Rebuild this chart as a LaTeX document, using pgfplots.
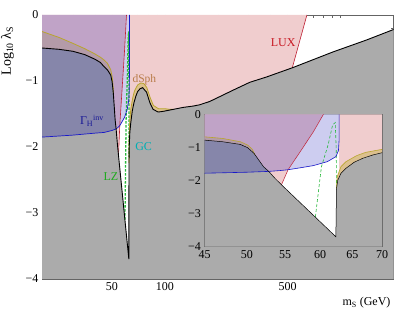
\documentclass[border=0pt]{standalone}
\usepackage{fontspec}
\setmainfont{Liberation Serif}
\usepackage{pgfplots}
\pgfplotsset{compat=1.18}
\definecolor{cgray}{RGB}{171,171,171}
\definecolor{cpink}{RGB}{240,205,206}
\definecolor{cpurple}{RGB}{192,163,199}
\definecolor{clav}{RGB}{205,205,240}
\definecolor{cdblue}{RGB}{134,134,170}
\definecolor{cmauve}{RGB}{180,155,168}
\definecolor{ctan}{RGB}{220,192,142}
\definecolor{ltan}{RGB}{185,165,45}
\definecolor{lblue}{RGB}{25,25,200}
\definecolor{lred}{RGB}{190,30,50}
\definecolor{lgreen}{RGB}{40,185,60}
\definecolor{axgray}{RGB}{100,100,100}
\definecolor{tlux}{RGB}{200,25,35}
\definecolor{tdsph}{RGB}{185,125,75}
\definecolor{tgamma}{RGB}{25,25,150}
\definecolor{tgc}{RGB}{0,175,180}
\definecolor{tlz}{RGB}{30,170,30}

\newcommand{\regions}{%
% LUX (left of red line)
\addplot[draw=none,fill=cpink] coordinates {(20,0) (60.5,0) (59.0,-0.53) (57.1,-1.13) (55.4,-1.675) (54.5,-2.13) (53.6,-1.93) (52.8,-1.725) (52.1,-1.58) (51.5,-1.38) (50.9,-1.18) (50.1,-1.01) (49.2,-0.91) (47.1,-0.83) (45,-0.78) (43,-0.72) (40,-0.67) (35,-0.60) (30,-0.55) (25,-0.52) (20,-0.50)} -- cycle;
% LUX + invisible width
\addplot[draw=none,fill=cpurple] coordinates {(20,0) (60.5,0) (59.0,-0.53) (57.1,-1.13) (55.4,-1.675) (54.3,-1.70) (52.8,-1.725) (52.1,-1.58) (51.5,-1.38) (50.9,-1.18) (50.1,-1.01) (49.2,-0.91) (47.1,-0.83) (45,-0.78) (43,-0.72) (40,-0.67) (35,-0.60) (30,-0.55) (25,-0.52) (20,-0.50)} -- cycle;
% invisible width only
\addplot[draw=none,fill=clav] coordinates {(60.5,0) (62.9,0) (62.9,-0.8) (62.8,-1.1) (62.4,-1.28) (61.1,-1.43) (59,-1.55) (57,-1.62) (55.4,-1.675) (57.1,-1.13) (59.0,-0.53)} -- cycle;
% LUX (high mass side)
\addplot[draw=none,fill=cpink] coordinates {(62.9,0) (643,0) (531,-0.80) (378,-0.94) (304,-1.02) (244,-1.14) (197,-1.26) (180,-1.31) (158,-1.36) (144.8,-1.38) (127,-1.40) (116.5,-1.42) (107,-1.43) (100,-1.42) (92,-1.42) (86,-1.37) (82.2,-1.24) (79,-1.10) (76,-1.04) (73,-1.03) (70,-1.06) (67.2,-1.15) (65.7,-1.25) (64.0,-1.43) (63.2,-1.58) (62.9,-1.68)} -- cycle;
% relic density excluded
\addplot[draw=none,fill=cgray] coordinates {(20,-4) (20,-0.50) (25,-0.52) (30,-0.55) (35,-0.60) (40,-0.67) (43,-0.72) (45,-0.78) (47.1,-0.83) (49.2,-0.91) (50.1,-1.01) (50.9,-1.18) (51.5,-1.38) (52.1,-1.58) (52.8,-1.725) (53.6,-1.93) (54.5,-2.13) (62.4,-3.70) (62.5,-2.24) (62.7,-1.99) (63.2,-1.78) (64.0,-1.63) (65.3,-1.45) (66.7,-1.33) (68.4,-1.23) (70,-1.16) (72.1,-1.12) (74.7,-1.10) (78.7,-1.17) (82.2,-1.33) (85.8,-1.43) (91.6,-1.47) (97.8,-1.46) (106.7,-1.44) (116.5,-1.42) (127,-1.40) (144.8,-1.38) (158,-1.36) (180,-1.31) (197,-1.26) (244,-1.14) (304,-1.02) (378,-0.94) (531,-0.80) (904,-0.56) (1400,-0.38) (2000,-0.22) (2000,-4)} -- cycle;
% overlap gray + invisible width
\addplot[draw=none,fill=cdblue] coordinates {(20,-0.50) (25,-0.52) (30,-0.55) (35,-0.60) (40,-0.67) (43,-0.72) (45,-0.78) (47.1,-0.83) (49.2,-0.91) (50.1,-1.01) (50.9,-1.18) (51.5,-1.38) (52.1,-1.58) (52.8,-1.725) (50,-1.75) (45,-1.78) (40,-1.79) (30,-1.82) (20,-1.85)} -- cycle;
% band between dSph and relic (low mass)
\addplot[draw=none,fill=cmauve] coordinates {(20,-0.25) (25,-0.34) (30,-0.43) (35,-0.51) (40,-0.59) (43,-0.64) (45,-0.68) (47.1,-0.73) (49.2,-0.83) (50.1,-0.93) (50.7,-1.06) (51.0,-1.22) (50.9,-1.18) (50.1,-1.01) (49.2,-0.91) (47.1,-0.83) (45,-0.78) (43,-0.72) (40,-0.67) (35,-0.60) (30,-0.55) (25,-0.52) (20,-0.50)} -- cycle;
% band between dSph and relic (high mass)
\addplot[draw=none,fill=ctan] coordinates {(62.5,-2.24) (62.6,-1.89) (63.2,-1.58) (64.0,-1.43) (65.7,-1.25) (67.2,-1.15) (70,-1.06) (73,-1.03) (76,-1.04) (79,-1.10) (82.2,-1.24) (86,-1.37) (92,-1.42) (100,-1.42) (107,-1.43) (112,-1.43) (106.7,-1.44) (97.8,-1.46) (91.6,-1.47) (85.8,-1.43) (82.2,-1.33) (78.7,-1.17) (74.7,-1.10) (72.1,-1.12) (70,-1.16) (68.4,-1.23) (66.7,-1.33) (65.3,-1.45) (64.0,-1.63) (63.2,-1.78) (62.7,-1.99)} -- cycle;
% LZ
\addplot[lzline] coordinates {(59.3,-3.1) (60.2,-1.58) (61.2,-0.93) (61.9,-0.32) (62.3,-0.25) (62.45,-1.0) (62.5,-2.15)};
% LUX lines
\addplot[redline] coordinates {(54.5,-2.13) (55.4,-1.675) (57.1,-1.13) (59.0,-0.53) (60.5,0)};
\addplot[redline] coordinates {(531,-0.80) (643,0)};
% invisible width
\addplot[blueline] coordinates {(20,-1.85) (30,-1.82) (40,-1.79) (45,-1.78) (50,-1.75) (52.8,-1.725) (54.3,-1.70) (55.4,-1.675) (57,-1.62) (59,-1.55) (61.1,-1.43) (62.4,-1.28) (62.8,-1.1) (62.9,-0.8) (62.9,0)};
% dSph
\addplot[tanline] coordinates {(20,-0.25) (25,-0.34) (30,-0.43) (35,-0.51) (40,-0.59) (43,-0.64) (45,-0.68) (47.1,-0.73) (49.2,-0.83) (50.1,-0.93) (50.7,-1.06) (51.0,-1.22)};
\addplot[tanline] coordinates {(62.5,-2.24) (62.6,-1.89) (63.2,-1.58) (64.0,-1.43) (65.7,-1.25) (67.2,-1.15) (70,-1.06) (73,-1.03) (76,-1.04) (79,-1.10) (82.2,-1.24) (86,-1.37) (92,-1.42) (100,-1.42) (107,-1.43) (112,-1.43)};
% relic density
\addplot[blackline] coordinates {(20,-0.50) (25,-0.52) (30,-0.55) (35,-0.60) (40,-0.67) (43,-0.72) (45,-0.78) (47.1,-0.83) (49.2,-0.91) (50.1,-1.01) (50.9,-1.18) (51.5,-1.38) (52.1,-1.58) (52.8,-1.725) (53.6,-1.93) (54.5,-2.13) (62.4,-3.70) (62.5,-2.24) (62.7,-1.99) (63.2,-1.78) (64.0,-1.63) (65.3,-1.45) (66.7,-1.33) (68.4,-1.23) (70,-1.16) (72.1,-1.12) (74.7,-1.10) (78.7,-1.17) (82.2,-1.33) (85.8,-1.43) (91.6,-1.47) (97.8,-1.46) (106.7,-1.44) (116.5,-1.42) (127,-1.40) (144.8,-1.38) (158,-1.36) (180,-1.31) (197,-1.26) (244,-1.14) (304,-1.02) (378,-0.94) (531,-0.80) (904,-0.56) (1400,-0.38) (2000,-0.22)};
}

\begin{document}
\begin{tikzpicture}
\path[use as bounding box] (0,0) rectangle (407pt,313pt);
\begin{axis}[
  scale only axis, xmode=log, ymin=-4, ymax=0,
  axis line style={axgray, line width=0.7pt},
  tick style={axgray, line width=0.5pt},
  tick align=inside,
  tick label style={font=\fontsize{12}{14}\selectfont, black},
  ytick={-4,-3,-2,-1,0}, yticklabels={−4,−3,−2,−1,0},
  minor y tick num=4,
  at={(42pt,34pt)}, anchor=south west, width=351.5pt, height=264pt,
  xmin=20, xmax=2000,
  xtick={50,100,500}, xticklabels={50,100,500},
  minor xtick={20,30,40,60,70,80,90,200,300,400,600,700,800,900,1000,2000},
  major tick length=5pt, minor tick length=3pt,
  blackline/.style={black, line width=0.9pt},
  tanline/.style={ltan, line width=0.8pt},
  blueline/.style={lblue, line width=0.7pt},
  redline/.style={lred, line width=0.6pt},
  lzline/.style={lgreen, line width=1.3pt, dash pattern=on 2.5pt off 1.5pt},
]
\regions
\node[text=tlux, font=\fontsize{12}{14}\selectfont] at (axis cs:471,-0.417) {LUX};
\node[text=tdsph, font=\fontsize{11.5}{14}\selectfont] at (axis cs:76.5,-0.985) {dSph};
\node[text=tgamma, font=\fontsize{12}{14}\selectfont] at (axis cs:38.5,-1.6) {Γ\textsubscript{H}\textsuperscript{inv}};
\node[text=tgc, font=\fontsize{12}{14}\selectfont] at (axis cs:75.7,-2.0) {GC};
\node[text=tlz, font=\fontsize{12}{14}\selectfont] at (axis cs:49.3,-2.45) {LZ};
\end{axis}
\begin{axis}[
  scale only axis, xmode=log, ymin=-4, ymax=0,
  axis line style={axgray, line width=0.7pt},
  tick style={axgray, line width=0.5pt},
  tick align=inside,
  tick label style={font=\fontsize{12}{14}\selectfont, black},
  ytick={-4,-3,-2,-1,0}, yticklabels={−4,−3,−2,−1,0},
  minor y tick num=4,
  at={(204.5pt,66.3pt)}, anchor=south west, width=177.5pt, height=132.4pt,
  xmin=45, xmax=70,
  axis background/.style={fill=white},
  xtick={45,50,55,60,65,70}, xticklabels={45,50,55,60,65,70},
  minor xtick={46,47,48,49,51,52,53,54,56,57,58,59,61,62,63,64,66,67,68,69},
  major tick length=4pt, minor tick length=2pt,
  blackline/.style={black, line width=0.5pt},
  tanline/.style={ltan, line width=0.6pt},
  blueline/.style={lblue, line width=0.6pt},
  redline/.style={lred, line width=0.5pt},
  lzline/.style={lgreen, line width=0.6pt, dash pattern=on 3pt off 2pt},
]
\regions
\end{axis}
\node[rotate=90, font=\fontsize{14}{16}\selectfont] at (7.5pt,262pt) {Log\textsubscript{10} λ\textsubscript{S}};
\node[anchor=east, font=\fontsize{12}{14}\selectfont] at (394pt,10pt) {m\textsubscript{S} (GeV)};
\end{tikzpicture}
\end{document}
